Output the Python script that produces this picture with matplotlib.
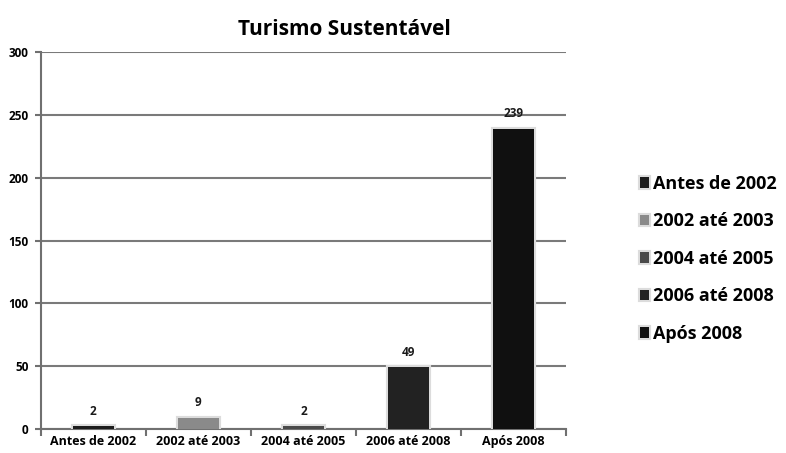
import numpy as np
import matplotlib.pyplot as plt
from matplotlib import patheffects as pe

# categorias e contagens
categorias = ['Antes de 2002', '2002 até 2003', '2004 até 2005', '2006 até 2008', 'Após 2008']
valores = [2, 9, 2, 49, 239]
cores = ['#1c1c1c', '#8a8a8a', '#4a4a4a', '#222222', '#101010']
yticks = [0, 50, 100, 150, 200, 250, 300]

plt.rcParams['font.family'] = ['Open Sans', 'DejaVu Sans']
plt.rcParams['font.weight'] = 'bold'

fig = plt.figure(figsize=(7.86, 4.53), dpi=100)
ax = fig.add_axes([0.052, 0.053, 0.668, 0.832])

x = np.arange(len(categorias))
barras = ax.bar(x, valores, width=0.39, color=cores, label=categorias, zorder=3,
                edgecolor='none')
for b in barras:
    b.set_path_effects([pe.withStroke(linewidth=3, foreground='#dcdcdc')])

# rótulos de valor acima das barras
for xi, v in zip(x, valores):
    ax.text(xi, v + 7, str(v), ha='center', va='bottom', fontsize=8.5,
            fontweight='bold', color='#1a1a1a', zorder=4)

ax.set_xlim(-0.5, len(categorias) - 0.5)
ax.set_ylim(0, 300)
ax.set_yticks(yticks)
ax.set_yticklabels([str(t) for t in yticks], fontsize=8.5, fontweight='bold')
ax.set_xticks(x)
ax.set_xticklabels(categorias, fontsize=9, fontweight='bold')
ax.set_xticks(np.arange(-0.5, len(categorias)), minor=True)
ax.tick_params(axis='x', which='major', length=0, pad=4)
ax.tick_params(axis='x', which='minor', length=5, width=1.5, color='#707070')
ax.tick_params(axis='y', length=4, width=1.5, color='#707070', pad=5)

ax.grid(axis='y', color='#7a7a7a', linewidth=1.5, zorder=0)
for s in ['top', 'right']:
    ax.spines[s].set_visible(False)
for s in ['left', 'bottom']:
    ax.spines[s].set_color('#707070')
    ax.spines[s].set_linewidth(1.5)

fig.text(0.438, 0.935, 'Turismo Sustentável', ha='center', va='center',
         fontsize=15, fontweight='bold')

fig.legend(loc='upper left', bbox_to_anchor=(0.793, 0.650), frameon=False,
           handlelength=0.5, handleheight=0.5, handletextpad=0.25,
           labelspacing=1.08, prop={'weight': 'bold', 'size': 13})

fig.savefig('out.png', dpi=100)
